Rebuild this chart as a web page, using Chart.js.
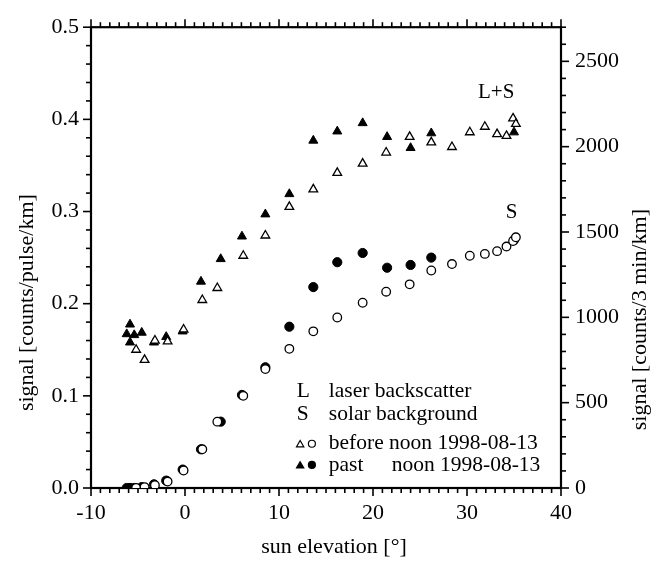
<!DOCTYPE html>
<html><head><meta charset="utf-8">
<script src="https://cdn.jsdelivr.net/npm/chart.js@4.4.0/dist/chart.umd.min.js"></script>
<style>html,body{margin:0;padding:0;background:#fff}#wrap{width:654px;height:564px}</style>
</head><body><div id="wrap"><canvas id="c" width="654" height="564"></canvas></div>
<script>
// ---- data ----
const xTicks = [-10, 0, 10, 20, 30, 40];
const leftTicks = [0, 0.1, 0.2, 0.3, 0.4, 0.5];
const rightTicks = [0, 500, 1000, 1500, 2000, 2500];

// before noon (open symbols)
const beforeX  = [-5.2, -4.3, -3.2, -1.85, -0.15, 1.84, 3.44, 6.2, 8.55, 11.1, 13.65, 16.2, 18.9, 21.4, 23.9, 26.2, 28.4, 30.3, 31.9, 33.2, 34.2, 34.9, 35.2];
const beforeLS = [0.150, 0.139, 0.160, 0.159, 0.172, 0.204, 0.217, 0.252, 0.274, 0.305, 0.324, 0.342, 0.352, 0.364, 0.381, 0.375, 0.370, 0.386, 0.392, 0.384, 0.382, 0.401, 0.395];
const beforeS  = [0.000, 0.001, 0.003, 0.007, 0.019, 0.042, 0.072, 0.100, 0.129, 0.151, 0.170, 0.185, 0.201, 0.213, 0.221, 0.236, 0.243, 0.252, 0.254, 0.257, 0.262, 0.268, 0.272];

// past noon (filled symbols)
const pastX  = [-6.2, -5.85, -5.85, -5.4, -4.6, -3.3, -2.0, -0.25, 1.7, 3.8, 6.06, 8.55, 11.1, 13.65, 16.2, 18.9, 21.5, 24.0, 26.2, 35.0];
const pastLS = [0.167, 0.1775, 0.158, 0.166, 0.1686, 0.158, 0.164, 0.170, 0.224, 0.2485, 0.273, 0.297, 0.319, 0.377, 0.387, 0.396, 0.381, 0.369, 0.385, 0.386];
const pastS  = [0.000, 0.000, 0.000, 0.000, 0.001, 0.004, 0.008, 0.020, 0.042, 0.072, 0.101, 0.131, 0.175, 0.218, 0.245, 0.255, 0.239, 0.242, 0.250, 0.269];

const countsPerUnit = 5400; // counts/3min/km per counts/pulse/km

// ---- style ----
const FONT = "'Liberation Serif', 'Times New Roman', serif";
const FS_TICK = 22;
const FS_TEXT = 21.5;
const FS_TITLE = 22;

function pts(xs, ys) { return xs.map((x, i) => ({ x: x, y: ys[i] })); }

const datasets = [
  { label: 'L+S before', data: pts(beforeX, beforeLS), pointStyle: 'triangle', pointRadius: 5, backgroundColor: '#fff', borderColor: '#000', borderWidth: 1.3 },
  { label: 'S before', data: pts(beforeX, beforeS), pointStyle: 'circle', pointRadius: 4.3, backgroundColor: '#fff', borderColor: '#000', borderWidth: 1.3 },
  { label: 'L+S past', data: pts(pastX, pastLS), pointStyle: 'triangle', pointRadius: 5.2, backgroundColor: '#000', borderColor: '#000', borderWidth: 1 },
  { label: 'S past', data: pts(pastX, pastS), pointStyle: 'circle', pointRadius: 4.6, backgroundColor: '#000', borderColor: '#000', borderWidth: 1 }
];
datasets.forEach(d => { d.showLine = false; d.pointHoverRadius = d.pointRadius; });

function drawTri(ctx, x, y, r, filled) {
  ctx.beginPath();
  for (let k = 0; k < 3; k++) {
    const a = k * 2 * Math.PI / 3;
    const px = x + Math.sin(a) * r, py = y - Math.cos(a) * r;
    if (k === 0) ctx.moveTo(px, py); else ctx.lineTo(px, py);
  }
  ctx.closePath();
  ctx.fillStyle = filled ? '#000' : '#fff';
  ctx.fill();
  ctx.lineWidth = 1.2; ctx.strokeStyle = '#000'; ctx.stroke();
}
function drawCirc(ctx, x, y, r, filled) {
  ctx.beginPath(); ctx.arc(x, y, r, 0, 2 * Math.PI);
  ctx.fillStyle = filled ? '#000' : '#fff'; ctx.fill();
  ctx.lineWidth = 1.2; ctx.strokeStyle = '#000'; ctx.stroke();
}

const framePlugin = {
  id: 'frame',
  beforeDatasetsDraw(chart) {
    const { ctx, chartArea: a, scales } = chart;
    const xs = scales.x, ys = scales.y, y2 = scales.y2;
    ctx.save();
    ctx.strokeStyle = '#000';
    ctx.lineWidth = 1.6;
    for (let i = 0; i <= 50; i++) {
      const v = xTicks[0] + i;
      const px = xs.getPixelForValue(v);
      const len = (i % 10 === 0) ? 8 : 5;
      ctx.beginPath(); ctx.moveTo(px, a.bottom); ctx.lineTo(px, a.bottom + len); ctx.stroke();
      ctx.beginPath(); ctx.moveTo(px, a.top); ctx.lineTo(px, a.top - len); ctx.stroke();
    }
    for (let i = 0; i <= 25; i++) {
      const py = ys.getPixelForValue(i * 0.02);
      const len = (i % 5 === 0) ? 8 : 5;
      ctx.beginPath(); ctx.moveTo(a.left, py); ctx.lineTo(a.left - len, py); ctx.stroke();
    }
    for (let i = 0; i * 100 <= y2.max; i++) {
      const py = y2.getPixelForValue(i * 100);
      const len = (i % 5 === 0) ? 8 : 5;
      ctx.beginPath(); ctx.moveTo(a.right, py); ctx.lineTo(a.right + len, py); ctx.stroke();
    }
    ctx.lineWidth = 2.2;
    ctx.strokeRect(a.left, a.top, a.right - a.left, a.bottom - a.top);
    ctx.restore();
  },
  afterDatasetsDraw(chart) {
    const { ctx, chartArea: a, scales } = chart;
    const xs = scales.x, ys = scales.y;
    const X = v => xs.getPixelForValue(v), Y = v => ys.getPixelForValue(v);
    ctx.save();
    ctx.fillStyle = '#000';
    ctx.textBaseline = 'middle';
    ctx.font = '21px ' + FONT;
    ctx.textAlign = 'center';
    ctx.fillText('L+S', X(33.1), Y(0.4287));
    ctx.fillText('S', X(34.75), Y(0.2988));
    ctx.font = FS_TEXT + 'px ' + FONT;
    ctx.textAlign = 'left';
    ctx.fillText('L', X(11.9), Y(0.105));
    ctx.fillText('laser backscatter', X(15.3), Y(0.105));
    ctx.fillText('S', X(11.9), Y(0.080));
    ctx.fillText('solar background', X(15.3), Y(0.080));
    ctx.fillText('before noon 1998-08-13', X(15.3), Y(0.048));
    ctx.fillText('past', X(15.3), Y(0.025));
    ctx.textAlign = 'right';
    ctx.fillText('noon 1998-08-13', X(37.8), Y(0.025));
    drawTri(ctx, X(12.25), Y(0.047), 4.2, false);
    drawCirc(ctx, X(13.5), Y(0.048), 3.5, false);
    drawTri(ctx, X(12.25), Y(0.024), 4.2, true);
    drawCirc(ctx, X(13.5), Y(0.025), 3.5, true);
    ctx.font = FS_TITLE + 'px ' + FONT;
    ctx.textAlign = 'center';
    ctx.fillText('sun elevation [°]', (a.left + a.right) / 2 + 8, 547);
    const cy = (a.top + a.bottom) / 2;
    ctx.save(); ctx.translate(27, cy + 45); ctx.rotate(-Math.PI / 2);
    ctx.fillText('signal [counts/pulse/km]', 0, 0); ctx.restore();
    ctx.save(); ctx.translate(640, cy + 62); ctx.rotate(-Math.PI / 2);
    ctx.fillText('signal [counts/3 min/km]', 0, 0); ctx.restore();
    ctx.restore();
  }
};

const tickFont = { family: FONT, size: FS_TICK };
const noGrid = { display: false, drawTicks: false };

new Chart(document.getElementById('c'), {
  type: 'scatter',
  data: { datasets: datasets },
  options: {
    responsive: false,
    animation: false,
    devicePixelRatio: 1,
    layout: { padding: { top: 20, left: 0, right: 0, bottom: 0 } },
    plugins: { legend: { display: false }, tooltip: { enabled: false } },
    scales: {
      x: {
        type: 'linear', position: 'bottom', min: xTicks[0], max: xTicks[xTicks.length - 1],
        grid: noGrid, border: { display: false },
        afterBuildTicks: s => { s.ticks = xTicks.map(v => ({ value: v })); },
        ticks: { font: tickFont, color: '#000', padding: 12, maxRotation: 0, callback: v => String(v) },
        afterFit: s => { s.height = 76; }
      },
      y: {
        type: 'linear', position: 'left', min: leftTicks[0], max: leftTicks[leftTicks.length - 1],
        grid: noGrid, border: { display: false },
        afterBuildTicks: s => { s.ticks = leftTicks.map(v => ({ value: v })); },
        ticks: { font: tickFont, color: '#000', padding: 12, callback: v => Number(v).toFixed(1) },
        afterFit: s => { s.width = 91; }
      },
      y2: {
        type: 'linear', position: 'right', min: 0, max: leftTicks[leftTicks.length - 1] * countsPerUnit,
        grid: noGrid, border: { display: false },
        afterBuildTicks: s => { s.ticks = rightTicks.map(v => ({ value: v })); },
        ticks: { font: tickFont, color: '#000', padding: 14, callback: v => String(v) },
        afterFit: s => { s.width = 93; }
      }
    }
  },
  plugins: [framePlugin]
});
</script>
</body></html>
